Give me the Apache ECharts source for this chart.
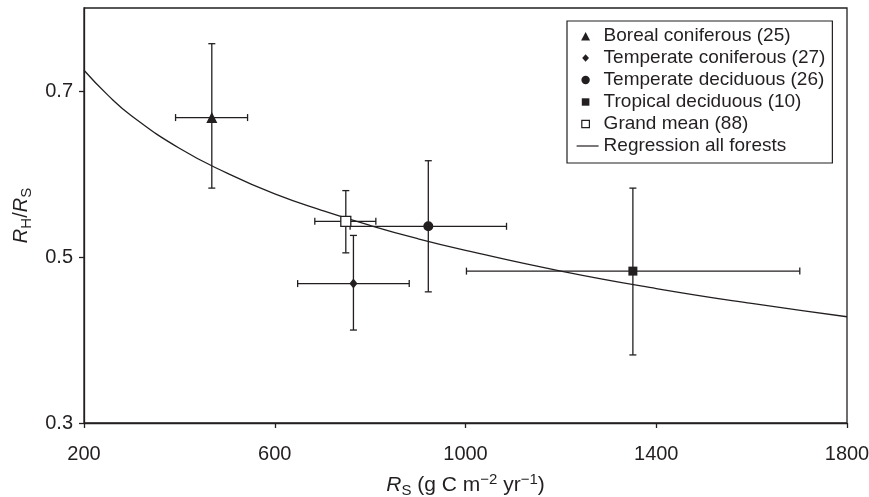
<!DOCTYPE html>
<html>
<head>
<meta charset="utf-8">
<script src="https://cdn.jsdelivr.net/npm/echarts@6/dist/echarts.min.js"></script>
<style>
html,body{margin:0;padding:0;background:#fff;}
#chart{width:869px;height:497px;}
</style>
</head>
<body>
<div id="chart"></div>
<script>
// ---- data ----
const categories = ['Boreal coniferous (25)', 'Temperate coniferous (27)', 'Temperate deciduous (26)', 'Tropical deciduous (10)', 'Grand mean (88)'];
const rsMean = [468, 765, 922, 1351, 749];
const rsLow = [392, 648, 758, 1002, 684];
const rsHigh = [543, 882, 1086, 1701, 812];
const ratioMean = [0.668, 0.468, 0.537, 0.483, 0.543];
const ratioLow = [0.583, 0.412, 0.458, 0.382, 0.505];
const ratioHigh = [0.757, 0.526, 0.616, 0.583, 0.580];
const curveX = [200, 250, 300, 400, 500, 600, 700, 800, 900, 1000, 1200, 1400, 1600, 1800];
const curveY = [0.725, 0.695, 0.670, 0.631, 0.601, 0.576, 0.556, 0.538, 0.522, 0.508, 0.483, 0.462, 0.444, 0.428];
const xTicks = [200, 600, 1000, 1400, 1800];
const yTicks = [0.3, 0.5, 0.7];
const regressionName = 'Regression all forests';

const INK = '#231f20';
const FONT = 'Liberation Sans';

const symbols = ['triangle', 'diamond', 'circle', 'rect', 'rect'];
const symbolSizes = [11, [8, 10], 10, 9, 10];
const fills = [INK, INK, INK, INK, '#ffffff'];

// legend icon shapes, each drawn inside a 22x8 slot (leading moves pin the slot size)
const SLOT = 'M0,0M22,9';
const legendIcons = [
  'path://' + SLOT + 'M4.5,9L9,0.5L13.5,9Z',
  'path://' + SLOT + 'M9,0.8L12.4,4.5L9,8.2L5.6,4.5Z',
  'path://' + SLOT + 'M13.2,4.5A4.2,4.2 0 1 1 4.8,4.5A4.2,4.2 0 1 1 13.2,4.5Z',
  'path://' + SLOT + 'M5.2,0.8H12.8V8.2H5.2Z',
  'path://' + SLOT + 'M5.2,0.8H12.8V8.2H5.2Z'
];
const lineIcon = 'path://' + SLOT + 'M0,3.9H22V5.1H0Z';

const chart = echarts.init(document.getElementById('chart'), null, {renderer: 'canvas'});

const errRows = categories.map((c, i) => [rsMean[i], ratioMean[i], rsLow[i], rsHigh[i], ratioLow[i], ratioHigh[i]]);

const series = [];
series.push({
  type: 'custom',
  name: 'errorbars',
  z: 1,
  silent: true,
  data: errRows,
  encode: {x: 0, y: 1},
  renderItem: function (params, api) {
    const x = api.value(0), y = api.value(1);
    const c = api.coord([x, y]);
    const xl = api.coord([api.value(2), y])[0];
    const xh = api.coord([api.value(3), y])[0];
    const yl = api.coord([x, api.value(4)])[1];
    const yh = api.coord([x, api.value(5)])[1];
    const cap = 3.5;
    const st = {stroke: INK, lineWidth: 1.3, fill: null};
    const ln = (x1, y1, x2, y2) => ({type: 'line', shape: {x1, y1, x2, y2}, style: st});
    return {type: 'group', children: [
      ln(xl, c[1], xh, c[1]),
      ln(xl, c[1] - cap, xl, c[1] + cap),
      ln(xh, c[1] - cap, xh, c[1] + cap),
      ln(c[0], yl, c[0], yh),
      ln(c[0] - cap, yl, c[0] + cap, yl),
      ln(c[0] - cap, yh, c[0] + cap, yh)
    ]};
  }
});

series.push({
  type: 'line',
  name: regressionName,
  z: 2,
  smooth: true,
  symbol: 'none',
  showSymbol: false,
  lineStyle: {color: INK, width: 1.3},
  itemStyle: {color: INK},
  data: curveX.map((x, i) => [x, curveY[i]])
});

categories.forEach((name, i) => {
  series.push({
    type: 'scatter',
    name: name,
    z: 3,
    symbol: symbols[i],
    symbolSize: symbolSizes[i],
    itemStyle: {color: fills[i], borderColor: INK, borderWidth: i === 4 ? 1.3 : 0, opacity: 1},
    data: [[rsMean[i], ratioMean[i]]]
  });
});

const legendData = categories.map((name, i) => ({
  name: name,
  icon: legendIcons[i],
  itemStyle: {color: fills[i], borderColor: INK, borderWidth: i === 4 ? 1.2 : 0}
}));
legendData.push({name: regressionName, icon: lineIcon, itemStyle: {color: INK, borderWidth: 0}});

const option = {
  animation: false,
  backgroundColor: '#fff',
  textStyle: {fontFamily: FONT, color: INK},
  grid: {left: 84, right: 22, top: 8, bottom: 74, containLabel: false, outerBoundsMode: 'none', show: true, borderColor: INK, borderWidth: 1.3, backgroundColor: 'transparent'},
  legend: {
    data: legendData,
    orient: 'vertical',
    left: 567,
    top: 21,
    itemWidth: 22,
    itemHeight: 9,
    itemGap: 0,
    padding: [4, 7, 6, 9],
    borderColor: INK,
    borderWidth: 1.2,
    backgroundColor: '#fff',
    selectedMode: false,
    textStyle: {fontFamily: FONT, fontSize: 19, color: INK, lineHeight: 22, padding: [0, 0, 0, 0]}
  },
  xAxis: {
    type: 'value',
    min: 200,
    max: 1800,
    interval: 400,
    name: '{i|R}{sub|S}{t| (g C m}{sup|−2}{t| yr}{sup|−1}{t|)}',
    nameLocation: 'middle',
    nameGap: 49,
    nameTextStyle: {
      fontFamily: FONT, color: INK, fontSize: 21,
      rich: {
        i: {fontStyle: 'italic', fontSize: 21, fontFamily: FONT, color: INK, lineHeight: 26, verticalAlign: 'middle'},
        t: {fontSize: 21, fontFamily: FONT, color: INK, lineHeight: 26, verticalAlign: 'middle'},
        sub: {fontSize: 15, fontFamily: FONT, color: INK, lineHeight: 15, verticalAlign: 'bottom'},
        sup: {fontSize: 15, fontFamily: FONT, color: INK, lineHeight: 15, verticalAlign: 'top'}
      }
    },
    axisLine: {show: true, lineStyle: {color: INK, width: 1.3}},
    axisTick: {show: true, inside: false, length: 5, lineStyle: {color: INK, width: 1.3}, customValues: xTicks},
    axisLabel: {show: true, margin: 21, fontSize: 20, fontFamily: FONT, color: INK, customValues: xTicks, formatter: v => String(v)},
    splitLine: {show: false}
  },
  yAxis: {
    type: 'value',
    min: 0.3,
    max: 0.8,
    name: '{i|R}{sub|H}{t|/}{i|R}{sub|S}',
    nameLocation: 'middle',
    nameGap: 40,
    nameRotate: 90,
    nameTextStyle: {
      fontFamily: FONT, color: INK, fontSize: 20,
      rich: {
        i: {fontStyle: 'italic', fontSize: 20, fontFamily: FONT, color: INK, lineHeight: 26, verticalAlign: 'middle'},
        t: {fontSize: 20, fontFamily: FONT, color: INK, lineHeight: 26, verticalAlign: 'middle'},
        sub: {fontSize: 15, fontFamily: FONT, color: INK, lineHeight: 15, verticalAlign: 'bottom'}
      }
    },
    axisLine: {show: true, lineStyle: {color: INK, width: 1.3}},
    axisTick: {show: true, inside: false, length: 5, lineStyle: {color: INK, width: 1.3}, customValues: yTicks},
    axisLabel: {show: true, margin: 11, fontSize: 20, fontFamily: FONT, color: INK, customValues: yTicks, formatter: v => v.toFixed(1)},
    splitLine: {show: false}
  },
  series: series
};

chart.setOption(option);
</script>
</body>
</html>
